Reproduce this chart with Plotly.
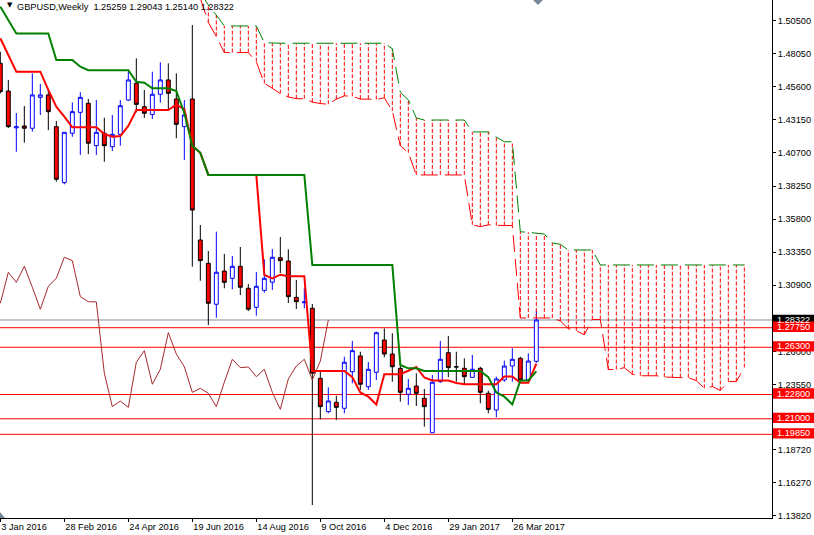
import plotly.graph_objects as go

# ---------------- data ----------------
tick_bars = [0, 8, 16, 24, 32, 40, 48, 56, 64]
tick_labels = ["3 Jan 2016", "28 Feb 2016", "24 Apr 2016", "19 Jun 2016", "14 Aug 2016",
               "9 Oct 2016", "4 Dec 2016", "29 Jan 2017", "26 Mar 2017"]

price_ticks = [1.50500, 1.48050, 1.45600, 1.43150, 1.40700, 1.38250, 1.35800, 1.33350,
               1.30900, 1.28450, 1.26000, 1.23550, 1.21100, 1.18720, 1.16270, 1.13820]
price_tick_text = ["1.50500", "1.48050", "1.45600", "1.43150", "1.40700", "1.38250", "1.35800",
                   "1.33350", "1.30900", "1.28450", "1.26000", "1.23550", "1.21100", "1.18720",
                   "1.16270", "1.13820"]

bar = list(range(68))
open_ = [1.4734, 1.4529, 1.4256, 1.4270, 1.4253, 1.4482, 1.4500, 1.4265, 1.3850, 1.4216,
         1.4371, 1.4438, 1.4124, 1.4216, 1.4116, 1.4208, 1.4462, 1.4586, 1.4413, 1.4356,
         1.4505, 1.4611, 1.4470, 1.4265, 1.4470, 1.3425, 1.3252, 1.2949, 1.3195, 1.3141,
         1.3230, 1.3067, 1.2926, 1.3052, 1.3112, 1.3294, 1.3269, 1.3000, 1.2960, 1.2919,
         1.2400, 1.2153, 1.2222, 1.2178, 1.2449, 1.2566, 1.2338, 1.2445, 1.2684, 1.2580,
         1.2474, 1.2282, 1.2343, 1.2252, 1.1997, 1.2375, 1.2590, 1.2486, 1.2474, 1.2407,
         1.2474, 1.2289, 1.2165, 1.2388, 1.2491, 1.2548, 1.2388, 1.25259]
high = [1.4820, 1.4611, 1.4366, 1.4418, 1.4660, 1.4581, 1.4537, 1.4307, 1.4225, 1.4445,
        1.4520, 1.4470, 1.4462, 1.4331, 1.4351, 1.4462, 1.4672, 1.4771, 1.4537, 1.4672,
        1.4742, 1.4734, 1.4660, 1.4462, 1.5018, 1.3536, 1.3343, 1.3487, 1.3321, 1.3306,
        1.3373, 1.3099, 1.3188, 1.3282, 1.3358, 1.3447, 1.3356, 1.3129, 1.3067, 1.2951,
        1.2449, 1.2333, 1.2271, 1.2560, 1.2677, 1.2597, 1.2521, 1.2746, 1.2770, 1.2734,
        1.2536, 1.2395, 1.2437, 1.2321, 1.2425, 1.2677, 1.2714, 1.2597, 1.2548, 1.2573,
        1.2486, 1.2308, 1.2412, 1.2531, 1.2623, 1.2560, 1.2585, 1.29043]
low = [1.4511, 1.4255, 1.4079, 1.4146, 1.4228, 1.4351, 1.4240, 1.3857, 1.3838, 1.4190,
       1.4055, 1.4062, 1.4055, 1.4005, 1.4084, 1.4124, 1.4455, 1.4371, 1.4330, 1.4321,
       1.4442, 1.4388, 1.4179, 1.4018, 1.3227, 1.3123, 1.2795, 1.2849, 1.3067, 1.3060,
       1.3017, 1.2899, 1.2864, 1.3035, 1.3055, 1.3180, 1.2958, 1.2914, 1.2919, 1.1461,
       1.2096, 1.2141, 1.2091, 1.2141, 1.2363, 1.2314, 1.2314, 1.2387, 1.2556, 1.2375,
       1.2227, 1.2202, 1.2195, 1.2042, 1.1997, 1.2367, 1.2408, 1.2375, 1.2351, 1.2405,
       1.2215, 1.2141, 1.2111, 1.2375, 1.2375, 1.2367, 1.2375, 1.25140]
close = [1.4524, 1.4265, 1.4264, 1.4253, 1.4500, 1.4500, 1.4376, 1.3875, 1.4223, 1.4376,
         1.4482, 1.4142, 1.4223, 1.4124, 1.4208, 1.4420, 1.4611, 1.4430, 1.4364, 1.4505,
         1.4611, 1.4512, 1.4282, 1.4351, 1.3647, 1.3272, 1.2956, 1.3186, 1.3111, 1.3230,
         1.3075, 1.2912, 1.3082, 1.3141, 1.3297, 1.3272, 1.3005, 1.2968, 1.2966, 1.2438,
         1.2190, 1.2232, 1.2185, 1.2519, 1.2605, 1.2356, 1.2467, 1.2738, 1.2580, 1.2486,
         1.2296, 1.2326, 1.2289, 1.2190, 1.2371, 1.2541, 1.2479, 1.2484, 1.2412, 1.2467,
         1.2296, 1.2170, 1.2395, 1.2491, 1.2541, 1.2388, 1.2528, 1.28322]

tenkan = [1.4920, 1.4796, 1.4672, 1.4672, 1.4672, 1.4672, 1.4537, 1.4413, 1.4339, 1.4260,
          1.4260, 1.4260, 1.4260, 1.4210, 1.4190, 1.4195, 1.4270, 1.4388, 1.4388, 1.4388,
          1.4388, 1.4388, 1.4428, 1.4395, 1.4123, 1.4071, 1.3907, 1.3907, 1.3907, 1.3907,
          1.3907, 1.3907, 1.3907, 1.3166, 1.3141, 1.3168, 1.3156, 1.3156, 1.3156, 1.2454,
          1.2454, 1.2454, 1.2454, 1.2454, 1.2409, 1.2295, 1.2264, 1.2206, 1.2431, 1.2431,
          1.2431, 1.2456, 1.2483, 1.2406, 1.2384, 1.2384, 1.2384, 1.2366, 1.2356, 1.2356,
          1.2356, 1.2356, 1.2356, 1.2413, 1.2413, 1.2367, 1.2367, 1.2508]
kijun = [1.5154, 1.5055, 1.4955, 1.4955, 1.4955, 1.4955, 1.4955, 1.4759, 1.4759, 1.4759,
         1.4709, 1.4683, 1.4683, 1.4683, 1.4683, 1.4683, 1.4683, 1.4598, 1.4591, 1.4549,
         1.4549, 1.4549, 1.4529, 1.4366, 1.4123, 1.4071, 1.3907, 1.3907, 1.3907, 1.3907,
         1.3907, 1.3907, 1.3907, 1.3907, 1.3907, 1.3907, 1.3907, 1.3907, 1.3907, 1.3240,
         1.3240, 1.3240, 1.3240, 1.3240, 1.3240, 1.3240, 1.3240, 1.3240, 1.3240, 1.3240,
         1.2499, 1.2474, 1.2474, 1.2454, 1.2454, 1.2454, 1.2454, 1.2454, 1.2454, 1.2454,
         1.2454, 1.2409, 1.2295, 1.2264, 1.2206, 1.2384, 1.2384, 1.2451]

span_bar = list(range(25, 94))
span_a = [1.5215, 1.5037, 1.4933, 1.4814, 1.4814, 1.4814, 1.4814, 1.4746, 1.4586, 1.4549,
          1.4510, 1.4485, 1.4472, 1.4472, 1.4447, 1.4436, 1.4431, 1.4469, 1.4493, 1.4490,
          1.4469, 1.4469, 1.4466, 1.4479, 1.4381, 1.4123, 1.4071,
          1.3907, 1.3907, 1.3907, 1.3907, 1.3907, 1.3907, 1.3907,
          1.3537, 1.3524, 1.3537, 1.3532, 1.3532, 1.3532,
          1.2847, 1.2847, 1.2847, 1.2847, 1.2847,
          1.2825, 1.2768, 1.2752, 1.2723, 1.2836, 1.2836, 1.2465, 1.2465, 1.2479, 1.2430,
          1.2419, 1.2419, 1.2419, 1.2410, 1.2405, 1.2405, 1.2405, 1.2383, 1.2326, 1.2339,
          1.2310, 1.2376, 1.2376, 1.2480]
span_b = [1.5260, 1.5166, 1.5092,
          1.5011, 1.5011, 1.5011, 1.5011, 1.5011,
          1.4887,
          1.4883, 1.4883, 1.4883, 1.4883, 1.4883, 1.4883, 1.4883, 1.4883, 1.4883, 1.4883,
          1.4883, 1.4883, 1.4883, 1.4883, 1.4883,
          1.4842, 1.4520, 1.4463, 1.4329,
          1.4314, 1.4314, 1.4314, 1.4314, 1.4314, 1.4314,
          1.4226, 1.4226, 1.4226,
          1.4187, 1.4153, 1.4153,
          1.3486, 1.3482, 1.3475, 1.3469,
          1.3403, 1.3393,
          1.3351, 1.3351, 1.3351, 1.3351,
          1.3240, 1.3240, 1.3240, 1.3240, 1.3240, 1.3240, 1.3240, 1.3240, 1.3240, 1.3240,
          1.3240, 1.3240, 1.3240, 1.3240, 1.3240, 1.3240, 1.3240, 1.3240, 1.3240]

chikou_shift = 26
levels = [1.27750, 1.26300, 1.22800, 1.21000, 1.19850]
level_text = ["1.27750", "1.26300", "1.22800", "1.21000", "1.19850"]
bid = 1.28322
bid_text = "1.28322"
title_text = "GBPUSD,Weekly\u00a0\u00a01.25259 1.29043 1.25140 1.28322"

FONT = "Liberation Sans, Arial, sans-serif"
Y_MIN, Y_MAX = 1.13649, 1.52034
PLOT_W, PLOT_H = 772, 518
box_half = 5.2 * (Y_MAX - Y_MIN) / PLOT_H

fig = go.Figure()

# support / resistance and bid lines
for lv in levels:
    fig.add_shape(type="line", xref="paper", x0=0, x1=1, yref="y", y0=lv, y1=lv,
                  line=dict(color="#FF0000", width=1), layer="below")
fig.add_shape(type="line", xref="paper", x0=0, x1=1, yref="y", y0=bid, y1=bid,
              line=dict(color="#8A8F99", width=1), layer="below")

# candles
fig.add_trace(go.Candlestick(
    x=bar, open=open_, high=high, low=low, close=close,
    increasing=dict(line=dict(color="#0000FF", width=1), fillcolor="#FFFFFF"),
    decreasing=dict(line=dict(color="#000000", width=1), fillcolor="#FF0000"),
    whiskerwidth=0, hoverinfo="skip"))

# chikou span
fig.add_trace(go.Scatter(x=[b - chikou_shift for b in bar[chikou_shift:]], y=close[chikou_shift:],
                         mode="lines", line=dict(color="#A52A2A", width=1), hoverinfo="skip"))
# tenkan / kijun
fig.add_trace(go.Scatter(x=bar, y=tenkan, mode="lines", line=dict(color="#FF0000", width=2),
                         hoverinfo="skip"))
fig.add_trace(go.Scatter(x=bar, y=kijun, mode="lines", line=dict(color="#008000", width=2),
                         hoverinfo="skip"))

# kumo hatch
hx, hy = [], []
for b, a, bb in zip(span_bar, span_a, span_b):
    hx += [b, b, None]
    hy += [a, bb, None]
fig.add_trace(go.Scatter(x=hx, y=hy, mode="lines", line=dict(color="#FF0000", width=1, dash="4px,2px"),
                         hoverinfo="skip"))
fig.add_trace(go.Scatter(x=span_bar, y=span_a, mode="lines",
                         line=dict(color="#FF0000", width=1, dash="17px,7px"), hoverinfo="skip"))
fig.add_trace(go.Scatter(x=span_bar, y=span_b, mode="lines",
                         line=dict(color="#008000", width=1, dash="17px,7px"), hoverinfo="skip"))

# price label boxes on right
fig.add_shape(type="rect", xref="paper", x0=773 / PLOT_W, x1=814 / PLOT_W, yref="y",
              y0=bid - box_half, y1=bid + box_half, fillcolor="#000000", line=dict(width=0))
fig.add_annotation(xref="paper", x=1, xanchor="left", xshift=4, yref="y", y=bid, yanchor="middle",
                   text=bid_text, showarrow=False, borderpad=0,
                   font=dict(family=FONT, size=9.2, color="#FFFFFF"))
for lv, t in zip(levels, level_text):
    fig.add_shape(type="rect", xref="paper", x0=773 / PLOT_W, x1=814 / PLOT_W, yref="y",
                  y0=lv - box_half + 0.0007, y1=lv + box_half + 0.0007, fillcolor="#FF0000",
                  line=dict(width=0))
    fig.add_annotation(xref="paper", x=1, xanchor="left", xshift=4, yref="y", y=lv + 0.0007,
                       yanchor="middle", text=t, showarrow=False, borderpad=0,
                       font=dict(family=FONT, size=9.2, color="#FFFFFF"))

# title
fig.add_annotation(xref="paper", yref="paper", x=5 / PLOT_W, y=1, xanchor="left", yanchor="top",
                   yshift=1, text="\u25BC", showarrow=False, font=dict(family="DejaVu Sans", size=7, color="#000000"))
fig.add_annotation(xref="paper", yref="paper", x=15 / PLOT_W, y=1, xanchor="left", yanchor="top",
                   text=title_text, showarrow=False, borderpad=1,
                   font=dict(family=FONT, size=9.2, color="#000000"))

# MT4 shift markers
fig.add_shape(type="path", xref="paper", yref="paper",
              path=f"M {533/PLOT_W},1 L {543/PLOT_W},1 L {538/PLOT_W},{1-5/PLOT_H} Z",
              fillcolor="#778899", line=dict(width=0))
fig.add_shape(type="path", xref="paper", yref="paper",
              path=f"M 0,{1-512/PLOT_H} L 0,0 L {5/PLOT_W},0 Z",
              fillcolor="#778899", line=dict(width=0))

fig.update_layout(
    width=814, height=535,
    margin=dict(l=0, r=42, t=0, b=17, pad=0, autoexpand=False),
    plot_bgcolor="#FFFFFF", paper_bgcolor="#FFFFFF",
    showlegend=False,
    font=dict(family=FONT, size=9.2, color="#000000"),
    xaxis=dict(range=[-0.04, 96.46], showgrid=False, zeroline=False, showline=True,
               linecolor="#000000", linewidth=1, ticks="outside", ticklen=3, tickcolor="#000000",
               tickvals=tick_bars, ticktext=tick_labels, ticklabelposition="outside right",
               tickfont=dict(family=FONT, size=9.2, color="#000000"), automargin=False,
               rangeslider=dict(visible=False), fixedrange=True),
    yaxis=dict(range=[Y_MIN, Y_MAX], side="right", showgrid=False, zeroline=False, showline=True,
               linecolor="#000000", linewidth=1, ticks="outside", ticklen=3, tickcolor="#000000",
               tickvals=price_ticks, ticktext=price_tick_text, automargin=False,
               tickfont=dict(family=FONT, size=9.2, color="#000000"), fixedrange=True),
)

fig.write_html("out.html", config={"displayModeBar": False},
               post_script="document.body.style.margin='0';document.body.style.overflow='hidden';")
